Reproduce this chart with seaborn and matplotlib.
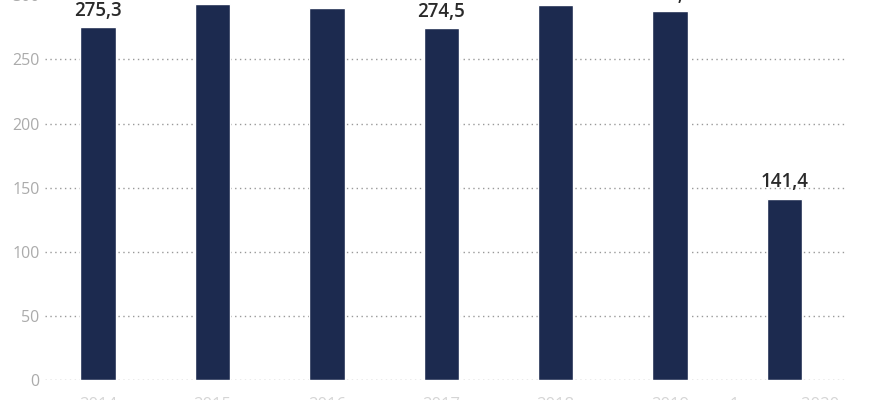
import matplotlib
matplotlib.use("Agg")
import matplotlib.pyplot as plt
import pandas as pd
import seaborn as sns

years = ["2014", "2015", "2016", "2017", "2018", "2019", "1er sem. 2020"]
values = [275.3, 293.3, 290.3, 274.5, 292.6, 287.7, 141.4]

BAR = "#1c2a4f"
GREY = "#ababab"

df = pd.DataFrame({"year": years, "value": values})

sns.set_theme(style="white")
plt.rcParams["font.family"] = ["Open Sans", "DejaVu Sans"]

fig = plt.figure(figsize=(8.7, 4), dpi=100)
# the reference is a crop: top of axis and the x labels fall partly off the canvas
ax = fig.add_axes([45 / 870, 0.05, 800 / 870, 0.9615])

sns.barplot(data=df, x="year", y="value", order=years, color=BAR,
            width=0.31, saturation=1, ax=ax)

ax.set_ylim(0, 300)
ax.set_xlim(-0.465, 6.53)
ax.set_yticks([0, 50, 100, 150, 200, 250, 300])
ax.yaxis.grid(True, linestyle=(0, (1, 2.5)), color="#999999", linewidth=1)
ax.set_axisbelow(True)
for s in ax.spines.values():
    s.set_visible(False)

ax.tick_params(axis="y", length=0, pad=4, labelsize=11.5, labelcolor=GREY)
ax.tick_params(axis="x", length=0, pad=12, labelsize=12, labelcolor="#d5d5d5")
ax.set_xlabel("")
ax.set_ylabel("")

labels = [f"{v:.1f}".replace(".", ",") for v in values]
ax.bar_label(ax.containers[0], labels=labels, padding=4.5, fontsize=13.5,
             fontweight="semibold", color="#2a2a2a")

fig.savefig("out.png", dpi=100)
